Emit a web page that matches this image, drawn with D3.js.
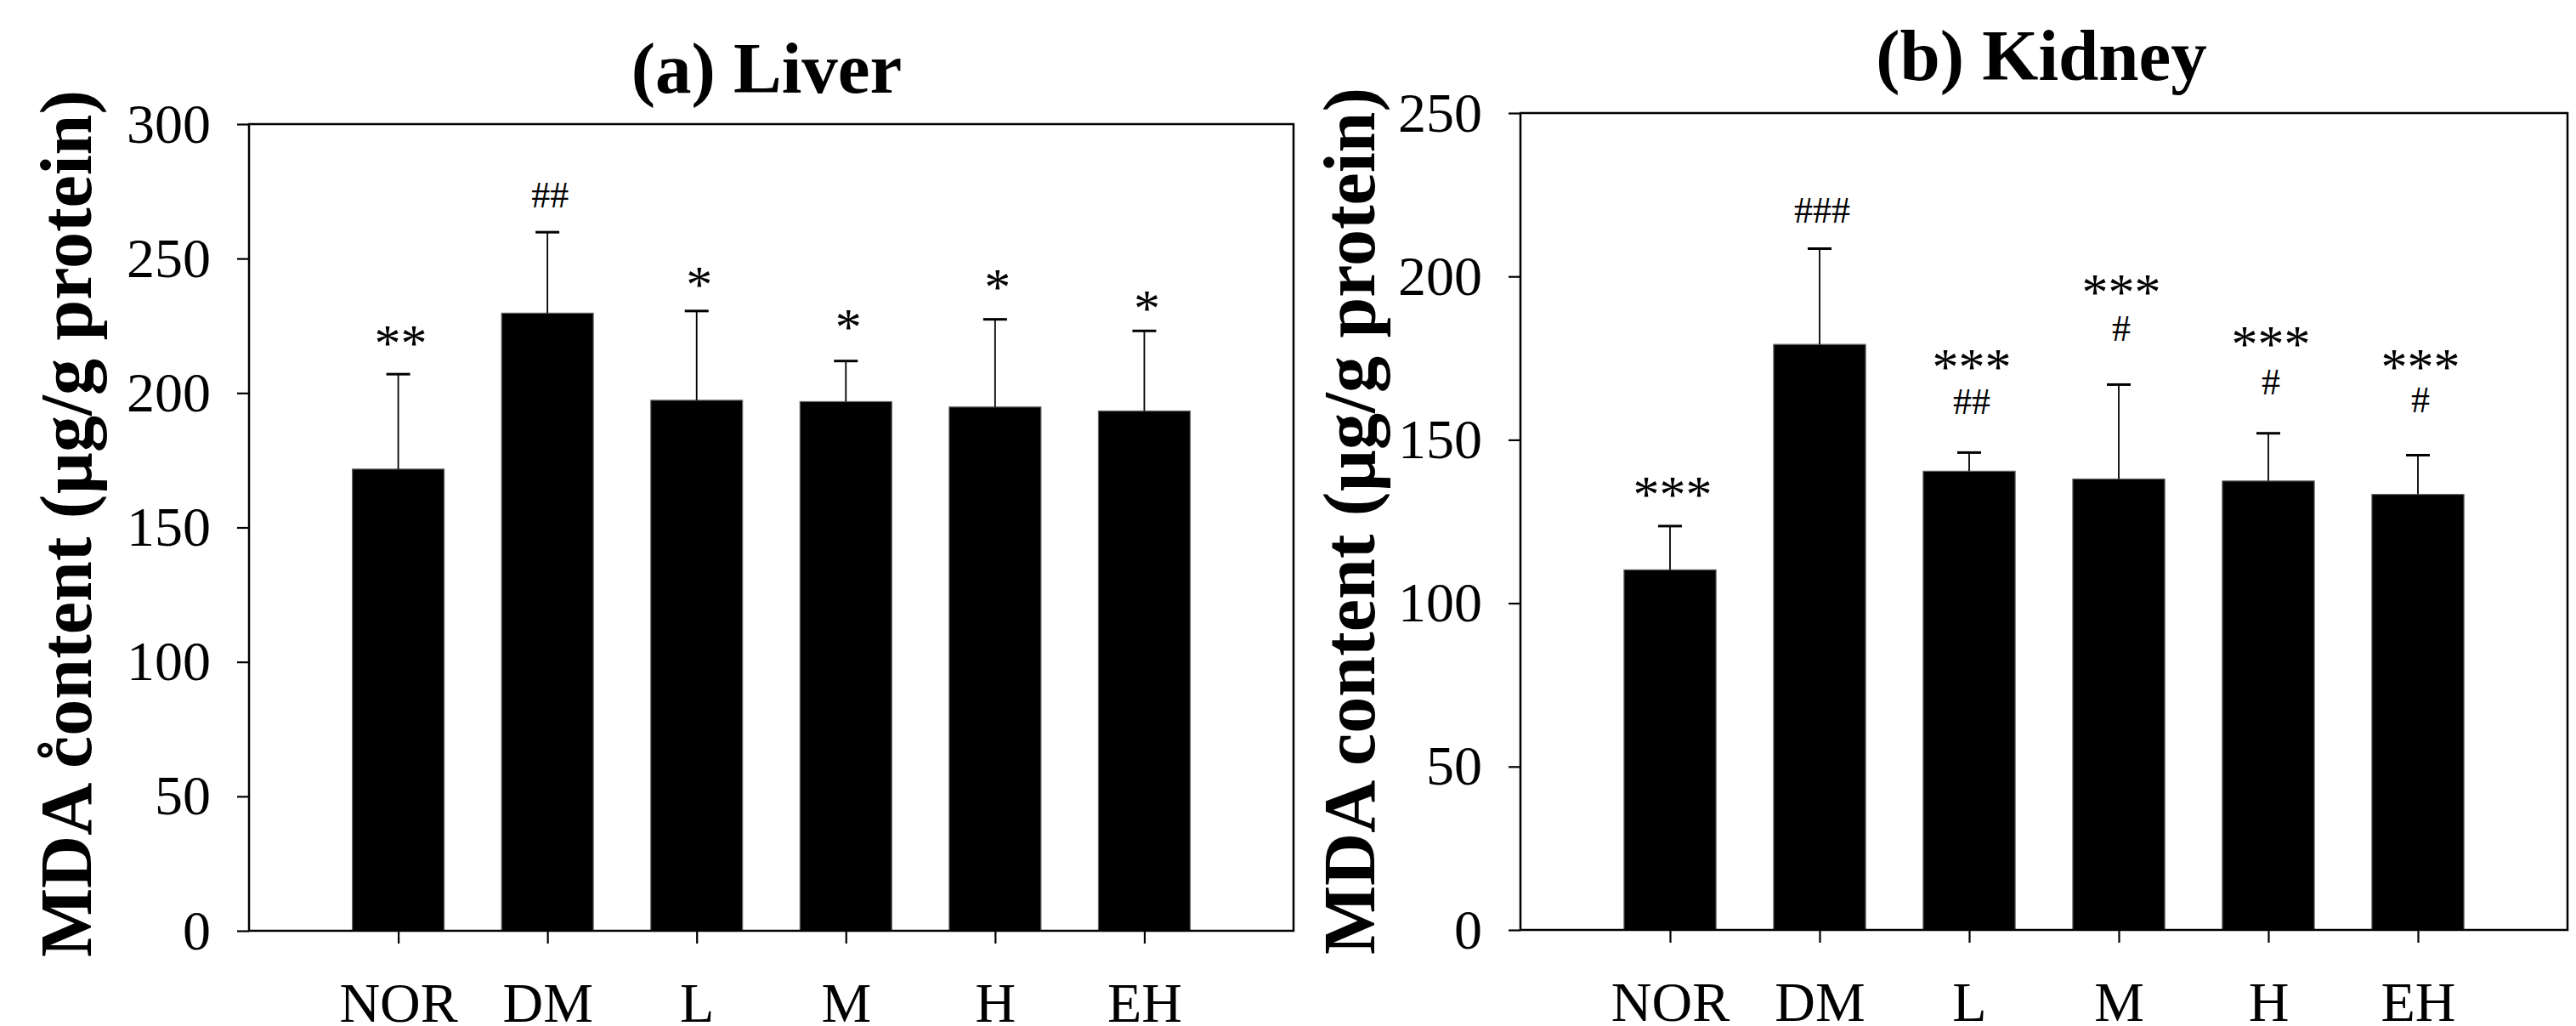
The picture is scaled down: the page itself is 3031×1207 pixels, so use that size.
<!DOCTYPE html>
<html lang="en">
<head>
    <meta charset="UTF-8">
    <title>MDA content</title>
    <script src="https://d3js.org/d3.v7.min.js"></script>
    <style>
        body { margin: 0; background: #fff; }
        text { font-family: "Liberation Serif", "Times New Roman", serif; fill: #000; }
    </style>
</head>
<body>

<svg></svg>

<script>

    const groups = ['NOR', 'DM', 'L', 'M', 'H', 'EH'];

    // (a) liver
    const liverMean = [171.7, 229.7, 197.3, 196.8, 194.8, 193.3];
    const liverSD = [35.3, 30.1, 33.2, 15.1, 32.6, 29.8];
    const liverTicks = [0, 50, 100, 150, 200, 250, 300];
    const liverStars = ['**', '', '*', '*', '*', '*'];
    const liverStarAt = [212, null, 234, 218, 233, 225];
    const liverHash = ['', '##', '', '', '', ''];
    const liverHashAt = [null, 269, null, null, null, null];

    // (b) kidney
    const kidneyMean = [110.2, 179.2, 140.4, 138.0, 137.4, 133.3];
    const kidneySD = [13.4, 29.3, 5.7, 28.9, 14.6, 12.0];
    const kidneyTicks = [0, 50, 100, 150, 200, 250];
    const kidneyStars = ['***', '', '***', '***', '***', '***'];
    const kidneyStarAt = [128, null, 167, 190, 174, 167];
    const kidneyHash = ['', '###', '##', '#', '#', '#'];
    const kidneyHashAt = [null, 216.4, 157.8, 180.3, 163.9, 158.4];

    const yLabel = 'MDA content (\u00b5g/g protein)';

    const width = 3031;
    const height = 1207;

    const svg = d3.select('svg')
        .attr('width', width)
        .attr('height', height);

    svg.append('rect').attr('width', width).attr('height', height).attr('fill', '#fff');

    function drawPanel(p) {
        const w = p.right - p.left;
        const h = p.bottom - p.top;

        const x = d3.scalePoint().domain(groups).range([0, w]).padding(1);
        const y = d3.scaleLinear().domain([0, d3.max(p.ticks)]).range([h, 0]);
        const barW = x.step() * 0.615;

        const g = svg.append('g').attr('transform', `translate(${p.left},${p.top})`);

        // bars
        g.selectAll('rect.bar')
            .data(p.mean)
            .enter()
            .append('rect')
            .attr('class', 'bar')
            .attr('x', (d, i) => x(groups[i]) - barW / 2)
            .attr('y', d => y(d))
            .attr('width', barW)
            .attr('height', d => h - y(d))
            .attr('fill', '#000')
            .attr('stroke', '#666')
            .attr('stroke-width', 1.2);

        // upper error bars
        const err = g.append('g').selectAll('g')
            .data(p.mean)
            .enter()
            .append('g');

        err.append('line')
            .attr('x1', (d, i) => x(groups[i]))
            .attr('x2', (d, i) => x(groups[i]))
            .attr('y1', d => y(d))
            .attr('y2', (d, i) => y(d + p.sd[i]))
            .attr('stroke', '#000')
            .attr('stroke-width', 1.8);

        err.append('line')
            .attr('x1', (d, i) => x(groups[i]) - 14)
            .attr('x2', (d, i) => x(groups[i]) + 14)
            .attr('y1', (d, i) => y(d + p.sd[i]))
            .attr('y2', (d, i) => y(d + p.sd[i]))
            .attr('stroke', '#000')
            .attr('stroke-width', 3);

        // significance marks
        g.append('g').selectAll('text')
            .data(p.stars)
            .enter()
            .append('text')
            .attr('x', (d, i) => x(groups[i]) + 3)
            .attr('y', (d, i) => p.starAt[i] == null ? 0 : y(p.starAt[i]))
            .attr('text-anchor', 'middle')
            .style('font-size', '62px')
            .text(d => d);

        g.append('g').selectAll('text')
            .data(p.hash)
            .enter()
            .append('text')
            .attr('x', (d, i) => x(groups[i]) + 3)
            .attr('y', (d, i) => p.hashAt[i] == null ? 0 : y(p.hashAt[i]))
            .attr('text-anchor', 'middle')
            .style('font-size', '44px')
            .text(d => d);

        // axes
        const yAxis = d3.axisLeft(y)
            .tickValues(p.ticks)
            .tickFormat(d3.format('d'))
            .tickSizeInner(14)
            .tickSizeOuter(0)
            .tickPadding(31);

        const yg = g.append('g').call(yAxis);

        const xAxis = d3.axisBottom(x)
            .tickSizeInner(15)
            .tickSizeOuter(0)
            .tickPadding(45);

        const xg = g.append('g')
            .attr('transform', `translate(0,${h})`)
            .call(xAxis);

        [yg, xg].forEach(a => {
            a.selectAll('text').style('font-size', '66px').attr('fill', '#000');
            a.selectAll('line').attr('stroke', '#000').attr('stroke-width', 2.2);
            a.select('.domain').remove();
        });

        // frame
        g.append('rect')
            .attr('width', w)
            .attr('height', h)
            .attr('fill', 'none')
            .attr('stroke', '#000')
            .attr('stroke-width', 2.5);

        // title
        svg.append('text')
            .attr('x', p.titleX)
            .attr('y', p.titleY)
            .attr('text-anchor', 'middle')
            .style('font-size', '85px')
            .style('font-weight', 'bold')
            .text(p.title);

        // y axis label
        svg.append('text')
            .attr('transform', `translate(${p.labelX},${p.labelY}) rotate(-90)`)
            .attr('text-anchor', 'middle')
            .style('font-size', '86px')
            .style('font-weight', 'bold')
            .text(p.label);
    }

    drawPanel({
        left: 293, right: 1522, top: 146, bottom: 1095,
        mean: liverMean, sd: liverSD, ticks: liverTicks,
        stars: liverStars, starAt: liverStarAt, hash: liverHash, hashAt: liverHashAt,
        title: '(a) Liver', titleX: 902, titleY: 109,
        label: 'MDA c\u030Aontent (\u00b5g/g protein)', labelX: 107, labelY: 616
    });

    drawPanel({
        left: 1789, right: 3021, top: 133, bottom: 1094,
        mean: kidneyMean, sd: kidneySD, ticks: kidneyTicks,
        stars: kidneyStars, starAt: kidneyStarAt, hash: kidneyHash, hashAt: kidneyHashAt,
        title: '(b) Kidney', titleX: 2402, titleY: 94,
        label: yLabel, labelX: 1617, labelY: 613
    });

</script>

</body>
</html>
